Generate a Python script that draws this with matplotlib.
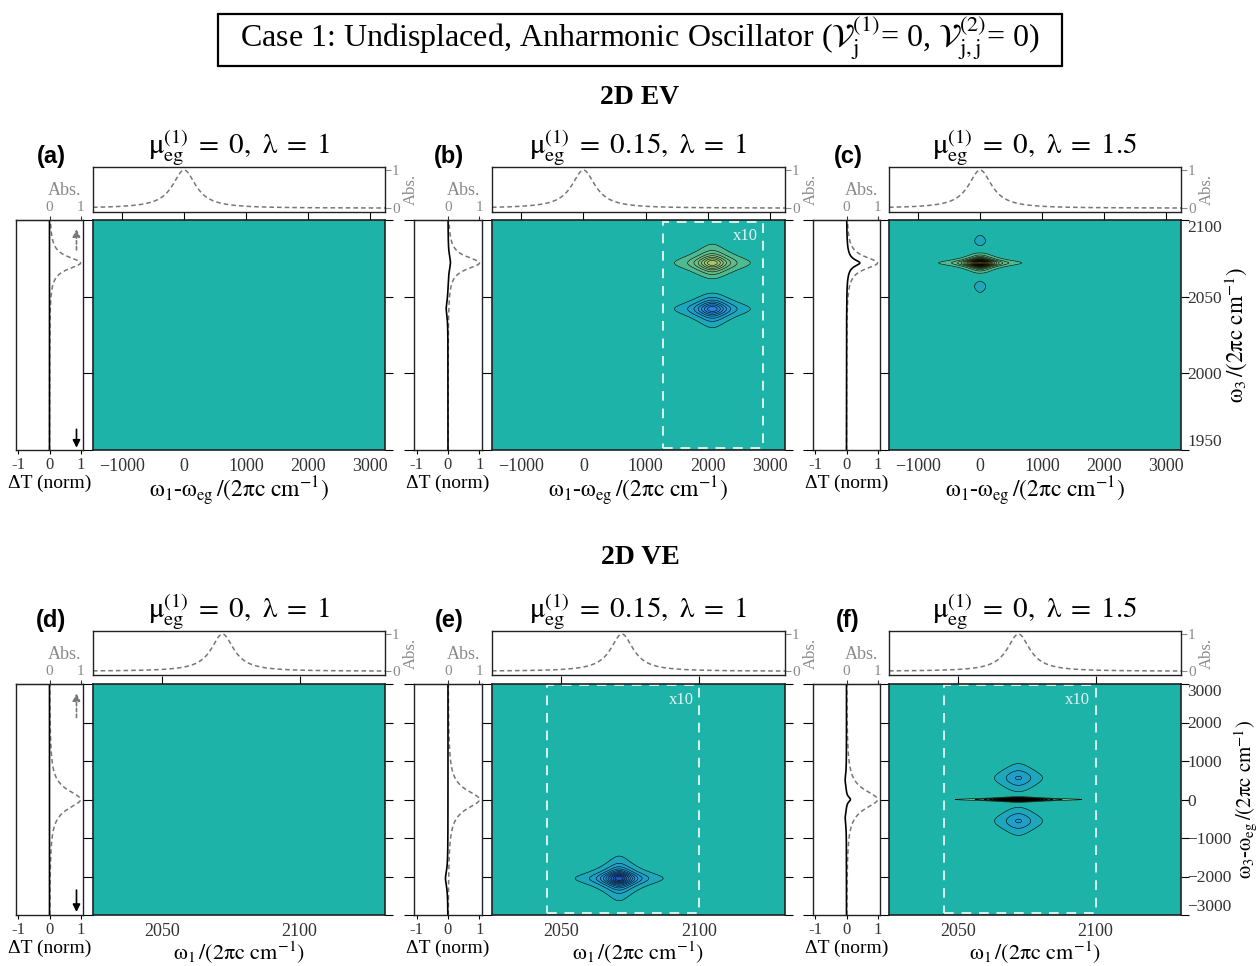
import numpy as np
import matplotlib
matplotlib.use('Agg')
import matplotlib.pyplot as plt
from matplotlib.colors import LinearSegmentedColormap, Normalize
from matplotlib.patches import Rectangle

# ---------------- data ----------------
EV_x_ticks = [-1000, 0, 1000, 2000, 3000]
EV_y_ticks = [1950, 2000, 2050, 2100]
EV_xlim = (-1470, 3240)
EV_ylim = (1950, 2100)
VE_x_ticks = [2050, 2100]
VE_y_ticks = [-3000, -2000, -1000, 0, 1000, 2000, 3000]
VE_xlim = (2025, 2131)
VE_ylim = (-3000, 3000)

panel_letters = ['(a)', '(b)', '(c)', '(d)', '(e)', '(f)']
mu_values = ['0', '0.15', '0']
lambda_values = ['1', '1', '1.5']

# linear absorption line shapes (center, HWHM)
abs_center_w = 2072
abs_hwhm_w = 5
abs_center_det = 0
abs_hwhm_det_EV = 230
abs_hwhm_det_VE = 300

# 2D peaks: (x0, y0, amplitude, gamma_x, gamma_y)
peaks_EV = [
    [],
    [(2072, 2072, 0.40, 234, 4.9), (2072, 2042, -0.40, 234, 4.9)],
    [(0, 2072, 1.0, 155, 2.0), (0, 2086, -0.10, 113, 5.0), (0, 2057, -0.10, 113, 5.0)],
]
peaks_VE = [
    [],
    [(2071, -2050, -0.60, 4.8, 175)],
    [(2072, 0, 1.0, 5.5, 25), (2072, 560, -0.15, 6.0, 250), (2072, -560, -0.15, 6.0, 250)],
]
# pump-probe projections: (center, amplitude, gamma)
dT_EV = [[], [(2072, 0.08, 6), (2042, -0.06, 6)], [(2072, 0.35, 2.5), (2072, 0.08, 7)]]
dT_VE = [[], [(-2050, -0.08, 250)], [(0, 0.14, 80), (500, -0.045, 200), (-500, -0.045, 200)]]
# x10 boxes (x0, y0, x1, y1)
box_EV = [None, (1280, 1951, 2890, 2099), None]
box_VE = [None, (2045, -2960, 2100, 2980), (2045, -2960, 2100, 2980)]

# ---------------- style ----------------
W, H = 1256, 966
plt.rcParams['font.family'] = ['Liberation Serif', 'DejaVu Serif']
plt.rcParams['mathtext.fontset'] = 'stix'
plt.rcParams['contour.negative_linestyle'] = 'solid'
TEAL = '#1bb3a9'
GREY = '#8a8a8a'
DARK = '#333333'

cmap = LinearSegmentedColormap.from_list('ev', [
    (0.0, '#0a1a60'), (0.2, '#1e4fb8'), (0.32, '#2a86e0'), (0.44, '#1f9ec8'),
    (0.5, TEAL), (0.54, '#52ba8f'), (0.66, '#96c476'), (0.8, '#d2d146'), (1.0, '#fff020')])
norm = Normalize(-1, 1)
levels = np.concatenate([np.arange(-1.0, -0.01, 0.05), np.arange(0.05, 1.001, 0.05)])

fig = plt.figure(figsize=(W / 100, H / 100), dpi=100)


def rect(x0, y0, x1, y1):
    return [x0 / W, 1 - y1 / H, (x1 - x0) / W, (y1 - y0) / H]


def lor(x, x0, g):
    return 1.0 / (1.0 + ((x - x0) / g) ** 2)


cols_main = [(93, 385), (492, 785), (889, 1181)]
cols_side = [(16, 83), (414, 482), (813, 880)]
rows = [dict(abs=(167, 212), main=(220, 450), title_y=138, head_y=97, head='2D EV',
             xlim=EV_xlim, ylim=EV_ylim, xt=EV_x_ticks, yt=EV_y_ticks, peaks=peaks_EV,
             dT=dT_EV, boxes=box_EV, xl_size=17, yl_size=16.5,
             xlabel=r'$\mathrm{ω}_1$-$\mathrm{ω}_{\mathrm{eg}}\,/(2\mathrm{π c\ cm}^{-1})$',
             ylabel=r'$\mathrm{ω}_3\,/(2\mathrm{π c\ cm}^{-1})$'),
        dict(abs=(631, 675), main=(684, 915), title_y=602, head_y=558, head='2D VE',
             xlim=VE_xlim, ylim=VE_ylim, xt=VE_x_ticks, yt=VE_y_ticks, peaks=peaks_VE,
             dT=dT_VE, boxes=box_VE, xl_size=16, yl_size=15,
             xlabel=r'$\mathrm{ω}_1\,/(2\mathrm{π c\ cm}^{-1})$',
             ylabel=r'$\mathrm{ω}_3$-$\mathrm{ω}_{\mathrm{eg}}\,/(2\mathrm{π c\ cm}^{-1})$')]

# title box
fig.patches.append(Rectangle((218 / W, 1 - 66 / H), 844 / W, 52 / H, transform=fig.transFigure,
                             fill=False, ec='black', lw=1.6))
fig.text(640 / W, 1 - 38 / H,
         r'Case 1: Undisplaced, Anharmonic Oscillator ($\mathcal{V}_{\mathrm{j}}^{(1)}$= 0, '
         r'$\mathcal{V}_{\mathrm{j,j}}^{(2)}$= 0)',
         ha='center', va='center', fontsize=23)

for r, row in enumerate(rows):
    fig.text(640 / W, 1 - row['head_y'] / H, row['head'], ha='center', va='center',
             fontsize=20, fontweight='bold')
    xs = np.linspace(row['xlim'][0], row['xlim'][1], 900)
    ys = np.linspace(row['ylim'][0], row['ylim'][1], 900)
    X, Y = np.meshgrid(xs, ys)
    for c in range(3):
        mx0, mx1 = cols_main[c]
        sx0, sx1 = cols_side[c]
        my0, my1 = row['main']
        ay0, ay1 = row['abs']
        # ---- main 2D ----
        ax = fig.add_axes(rect(mx0, my0, mx1, my1))
        ax.set_facecolor(TEAL)
        Z = np.zeros_like(X)
        for (x0, y0, a, gx, gy) in row['peaks'][c]:
            Z += a * lor(X, x0, gx) * lor(Y, y0, gy)
        ax.contourf(X, Y, Z, levels=levels, cmap=cmap, norm=norm, extend='both')
        if row['peaks'][c]:
            ax.contour(X, Y, Z, levels=levels, colors='black', linewidths=0.4,
                       linestyles='solid')
        ax.set_xlim(row['xlim'])
        ax.set_ylim(row['ylim'])
        ax.set_xticks(row['xt'])
        ax.set_yticks(row['yt'])
        ax.tick_params(axis='x', top=True, bottom=True, labelbottom=True, labeltop=False,
                       direction='out', labelsize=13, labelcolor=DARK, pad=2)
        ax.tick_params(axis='y', left=True, right=True, labelleft=False,
                       labelright=(c == 2), direction='out', labelsize=12.5,
                       labelcolor=DARK, pad=1)
        for t in ax.xaxis.get_major_ticks():
            t.tick1line.set_markersize(0)
            t.tick2line.set_markersize(5.5)
        yticks_obj = ax.yaxis.get_major_ticks()
        for t in yticks_obj:
            t.tick1line.set_markersize(7.2)
            t.tick2line.set_markersize(5.5)
        yticks_obj[0].label2.set_va('bottom')
        yticks_obj[-1].label2.set_va('top')
        for s in ax.spines.values():
            s.set_color('#222222')
            s.set_linewidth(1.2)
        ax.set_xlabel(row['xlabel'], fontsize=row['xl_size'], labelpad=0)
        if c == 2:
            ax.yaxis.set_label_position('right')
            ax.set_ylabel(row['ylabel'], fontsize=row['yl_size'], labelpad=0)
        bx = row['boxes'][c]
        if bx is not None:
            ax.add_patch(Rectangle((bx[0], bx[1]), bx[2] - bx[0], bx[3] - bx[1], fill=False,
                                   ec='#d8f2ee', lw=1.4, ls=(0, (5, 4))))
            ax.annotate('x10', xy=(bx[2], bx[3]), xytext=(-4, -5), textcoords='offset points',
                        ha='right', va='top', fontsize=12, color='#e4f6f3')
        # ---- top absorption panel ----
        aa = fig.add_axes(rect(mx0, ay0, mx1, ay1))
        xa = np.linspace(row['xlim'][0], row['xlim'][1], 600)
        if r == 0:
            ya = lor(xa, abs_center_det, abs_hwhm_det_EV)
        else:
            ya = lor(xa, abs_center_w, abs_hwhm_w)
        aa.plot(xa, ya, color='#777777', lw=1.1, ls=(0, (3, 2)))
        aa.set_xlim(row['xlim'])
        aa.set_ylim(-0.1, 1.08)
        aa.set_xticks([])
        aa.set_yticks([0, 1])
        aa.tick_params(axis='y', left=False, right=True, labelleft=False, labelright=True,
                       direction='out', length=4, labelsize=11, labelcolor=GREY,
                       color=GREY, pad=1)
        aa.yaxis.set_label_position('right')
        aa.set_ylabel('Abs.', fontsize=12, color=GREY, labelpad=2)
        for s in aa.spines.values():
            s.set_color('#222222')
            s.set_linewidth(1.0)
        aa.set_title(r'$\mathrm{μ}_{\mathrm{eg}}^{(1)}\;=\;' + mu_values[c]
                     + r',\ \mathrm{λ}\;=\;' + lambda_values[c] + '$', fontsize=21, pad=8)
        # ---- side ΔT panel ----
        sa = fig.add_axes(rect(sx0, my0, sx1, my1))
        yv = np.linspace(row['ylim'][0], row['ylim'][1], 1200)
        if r == 0:
            yabs = lor(yv, abs_center_w, abs_hwhm_w)
        else:
            yabs = lor(yv, abs_center_det, abs_hwhm_det_VE)
        dT = np.zeros_like(yv)
        for (y0, a, g) in row['dT'][c]:
            dT += a * lor(yv, y0, g)
        sa.plot(yabs, yv, color='#777777', lw=1.1, ls=(0, (3, 2)))
        sa.plot(dT, yv, color='black', lw=1.2)
        sa.set_xlim(-1.08, 1.08)
        sa.set_ylim(row['ylim'])
        sa.set_xticks([-1, 0, 1])
        sa.set_xticklabels(['-1', '0', '1'])
        sa.set_yticks(row['yt'])
        sa.tick_params(axis='x', direction='out', length=3, labelsize=12,
                       labelcolor=DARK, pad=2)
        sa.tick_params(axis='y', labelleft=False, direction='out',
                       length=(0 if c == 0 else 7.2))
        sa.set_xlabel('ΔT (norm)', fontsize=14, labelpad=1)
        for s in sa.spines.values():
            s.set_color('#222222')
            s.set_linewidth(1.0)
        sec = sa.secondary_xaxis('top')
        sec.set_xticks([0, 1])
        sec.set_xticklabels(['0', '1'])
        sec.tick_params(direction='out', length=3, labelsize=11, labelcolor=GREY,
                        color=DARK, pad=1)
        sa.annotate('Abs.', xy=(0.5, 1.0), xycoords=('data', 'axes fraction'),
                    xytext=(0, 21), textcoords='offset points', ha='center', va='center',
                    fontsize=13, color=GREY)
        if c == 0:
            if r == 0:
                up = (0.87, 0.96)
                dn = (0.09, 0.01)
            else:
                up = (0.855, 0.96)
                dn = (0.108, 0.013)
            sa.annotate('', xy=(0.87, up[1]), xytext=(0.87, up[0]),
                        xycoords=('data', 'axes fraction'), textcoords=('data', 'axes fraction'),
                        arrowprops=dict(arrowstyle='-|>', color='#777777', lw=1.2,
                                        ls=(0, (2, 1.5)), mutation_scale=11,
                                        shrinkA=0, shrinkB=0))
            sa.annotate('', xy=(0.87, dn[1]), xytext=(0.87, dn[0]),
                        xycoords=('data', 'axes fraction'), textcoords=('data', 'axes fraction'),
                        arrowprops=dict(arrowstyle='-|>', color='black', lw=1.2,
                                        mutation_scale=11, shrinkA=0, shrinkB=0))
        # panel letter
        fig.text((sx0 + 35) / W, 1 - (row['title_y'] + 18) / H, panel_letters[3 * r + c],
                 ha='center', va='center', fontsize=17, fontweight='bold',
                 family=['Liberation Sans', 'DejaVu Sans'])

fig.savefig('out.png', dpi=100)
